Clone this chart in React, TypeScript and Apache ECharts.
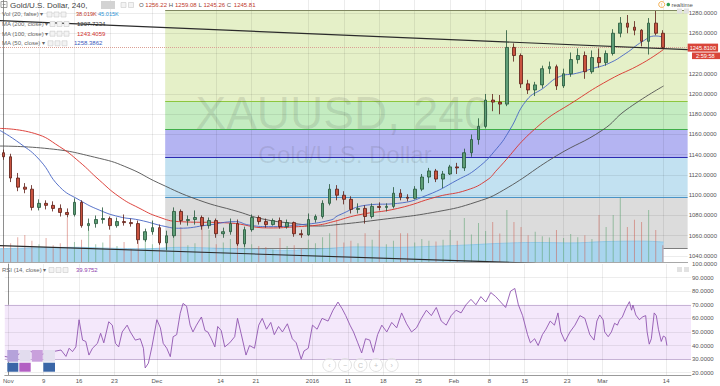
import React, { useEffect, useRef } from "react";
import * as echarts from "echarts";

const FONT = "'Liberation Sans', Arial, sans-serif";

// trading days shown (Nov 2015 - Mar 2016)
const DATES = [
  "11-02","11-03","11-04","11-05","11-06","11-09","11-10","11-11","11-12","11-13","11-16","11-17","11-18","11-19","11-20","11-23","11-24","11-25","11-26","11-27","11-30",
  "12-01","12-02","12-03","12-04","12-07","12-08","12-09","12-10","12-11","12-14","12-15","12-16","12-17","12-18","12-21","12-22","12-23","12-24","12-28","12-29","12-30","12-31",
  "01-04","01-05","01-06","01-07","01-08","01-11","01-12","01-13","01-14","01-15","01-18","01-19","01-20","01-21","01-22","01-25","01-26","01-27","01-28","01-29",
  "02-01","02-02","02-03","02-04","02-05","02-08","02-09","02-10","02-11","02-12","02-15","02-16","02-17","02-18","02-19","02-22","02-23","02-24","02-25","02-26","02-29",
  "03-01","03-02","03-03","03-04","03-07","03-08","03-09","03-10","03-11","03-14",
];
const RIGHT_PAD = ["+1", "+2", "+3"];

const TICK_DATES = ["11-02","11-09","11-16","11-23","12-01","12-14","12-21","01-04","01-11","01-18","01-25","02-01","02-08","02-15","02-23","03-01","03-14"];
const TICK_LABELS = ["Nov","9","16","23","Dec","14","21","2016","11","18","25","Feb","8","15","23","Mar","14"];

const OPEN = [1142,1138,1117,1108,1106,1088,1092,1090,1087,1083,1081,1093,1070,1072,1076,1077,1070,1074,1073,1072,1056,1064,1068,1053,1060,1084,1075,1076,1078,1070,1075,1062,1064,1072,1052,1066,1078,1074,1071,1075,1069,1073,1062,1061,1076,1079,1092,1106,1100,1096,1086,1087,1079,1089,1088,1089,1102,1098,1097,1106,1118,1124,1116,1121,1128,1127,1142,1155,1168,1194,1192,1190,1246,1238,1210,1204,1209,1225,1227,1208,1220,1234,1238,1222,1236,1231,1240,1260,1270,1266,1263,1252,1270,1260];
const HIGH = [1145,1141,1122,1112,1110,1096,1095,1094,1091,1087,1097,1095,1077,1080,1088,1079,1078,1081,1077,1075,1067,1075,1071,1065,1088,1086,1080,1085,1080,1078,1077,1068,1077,1076,1069,1081,1080,1077,1077,1078,1076,1074,1066,1082,1081,1095,1111,1110,1104,1099,1092,1090,1092,1093,1092,1108,1106,1101,1109,1121,1127,1126,1124,1130,1132,1146,1160,1176,1200,1200,1199,1263,1250,1240,1214,1212,1228,1232,1229,1225,1241,1245,1242,1243,1245,1243,1264,1276,1278,1272,1264,1275,1282,1263];
const LOW = [1135,1113,1104,1102,1085,1085,1086,1084,1079,1078,1079,1068,1065,1068,1072,1066,1068,1070,1069,1052,1054,1061,1051,1046,1058,1071,1070,1071,1066,1067,1058,1058,1061,1050,1049,1064,1071,1068,1070,1067,1067,1059,1058,1060,1073,1077,1090,1095,1091,1082,1082,1072,1077,1085,1084,1087,1095,1094,1096,1104,1112,1113,1107,1120,1121,1124,1138,1150,1166,1183,1180,1188,1232,1206,1200,1198,1206,1220,1204,1206,1217,1230,1215,1220,1226,1228,1238,1256,1260,1258,1247,1239,1258,1245];
const CLOSE = [1138,1117,1108,1106,1088,1092,1090,1087,1083,1081,1093,1070,1072,1076,1077,1070,1074,1073,1072,1056,1064,1068,1053,1060,1084,1075,1076,1078,1070,1075,1062,1064,1072,1052,1066,1078,1074,1071,1075,1069,1073,1062,1061,1076,1079,1092,1106,1100,1096,1086,1087,1079,1089,1088,1089,1102,1098,1097,1106,1118,1124,1116,1121,1128,1127,1142,1155,1168,1194,1192,1190,1246,1238,1210,1204,1209,1225,1227,1208,1220,1234,1238,1222,1236,1231,1240,1260,1270,1266,1263,1252,1270,1260,1246];

// volume (K) per bar and its 20-period average
const VOLUME = [38,42,56,61,48,40,54,38,42,99,45,50,72,40,44,61,36,45,30,48,61,40,44,50,58,79,38,42,101,72,40,44,52,68,61,40,36,34,28,54,36,38,30,50,42,56,65,95,44,48,42,65,50,72,40,48,65,65,44,52,48,46,50,72,48,99,62,88,70,90,64,117,90,79,60,68,58,55,72,54,63,56,60,52,106,79,106,146,79,95,90,117,72,38];
const VOL_MA = [[-0.5,30],[5,32],[10,33],[15,31],[20,30],[25,33],[30,31],[35,29],[40,27],[45,30],[50,34],[55,33],[60,35],[65,38],[70,42],[75,44],[80,43],[85,46],[90,47],[93.1,45]];

// moving averages read at sample positions [bar index, price]
const MA200 = [[-0.5,1148.6],[5.8,1146.4],[13.5,1136.5],[17.7,1126.7],[21.9,1112],[27.5,1095.3],[33.1,1083.8],[36.6,1076.5],[41.6,1071.6],[44.4,1069.6],[46.5,1070.6],[52.8,1075.6],[61.2,1083.8],[66.8,1093.6],[70.5,1105],[78,1139],[84.5,1164.4],[87.8,1184.2],[93.1,1207.9]];
const MA100 = [[-0.5,1166],[4.4,1161],[7.9,1148],[10.7,1133],[13.5,1115],[16.3,1098.6],[19.1,1087.4],[21.9,1078.5],[24.7,1074],[31.8,1072.6],[37.4,1067.7],[41.6,1069],[44.4,1070.6],[46.5,1073.9],[50,1080.5],[55.6,1087],[61.2,1098.6],[65.4,1105.2],[68.2,1115],[69.6,1125],[75.2,1167],[80.8,1194],[85.4,1213.8],[90.1,1230.3],[93.1,1244]];
const MA50 = [[-0.5,1164],[2.3,1151.3],[5.1,1134.8],[7.9,1108.4],[10.7,1095.3],[13.5,1085.4],[16.3,1078.8],[19.1,1075.6],[22.9,1069],[24.7,1067.4],[28.9,1070.6],[32.7,1073.9],[34.6,1070.6],[37.4,1069],[41.6,1070.6],[46.2,1075.6],[47.2,1080],[51.4,1090.4],[55.6,1092],[59.8,1100.2],[64,1115],[66.8,1126.6],[69.6,1146.4],[71.4,1164.4],[73.8,1194],[76.1,1205.6],[78.4,1217.1],[80.8,1220.4],[83.2,1225.4],[85.4,1230.3],[87.8,1240.2],[90.1,1251.7],[92,1257.3],[93.1,1256]];

const RSI = [[-0.5,32],[0.44,31],[1.6,34],[3,36],[4.4,33],[5.8,35],[7.45,36.7],[8.15,32],[8.6,38],[9.07,35.5],[9.55,39],[10,59],[10.5,44],[10.95,43],[11.4,33],[11.9,38],[12.6,41.6],[13.05,49],[13.5,42],[14.2,57.5],[14.7,55],[15.15,41.6],[15.6,39],[16.1,50],[16.8,55],[17.25,50],[17.95,44],[18.65,45],[19.1,38],[19.35,23.5],[19.8,27],[20.3,39],[21,59],[21.5,53],[21.9,41.6],[22.4,38],[22.9,31.8],[23.3,46.5],[23.8,48],[24.3,63.7],[24.7,71],[25.2,69],[25.7,55],[26.1,50],[26.6,55],[27.3,61],[27.8,51],[28.2,50],[28.7,45],[29.2,39],[29.6,54],[30.1,51],[30.6,39],[31.3,42],[32,46.5],[32.4,60],[32.9,49],[33.6,33],[34.1,40],[34.8,38],[35.4,55],[35.9,60],[36.5,52],[37.1,57],[37.6,48],[38.2,54],[38.75,50],[39.45,56],[40.15,45],[40.7,42],[41.4,30],[41.8,36],[42.4,38],[43,55],[43.65,52],[44.35,60],[45.2,58],[45.9,66],[46.6,72],[47.2,67],[47.7,62],[48.3,55],[48.8,50],[49.4,42],[49.95,34.5],[50.5,45],[51.1,44],[51.6,35],[52.2,48],[52.8,55],[53.5,50],[54.2,57],[54.9,53],[55.6,64],[56.3,56],[57,50],[57.7,53],[58.4,60],[59.1,66],[59.8,62],[60.5,68],[61.2,58],[61.9,55],[62.6,62],[63.3,66],[64,64],[64.7,70],[65.4,74],[66.1,70],[66.8,76],[67.5,72],[68.2,79],[68.9,76],[69.6,72],[70.3,68],[71,80],[71.6,82],[72.1,70],[72.7,62],[73.4,48],[73.8,42],[74.4,45],[74.9,40],[75.5,48],[76,52],[76.6,58],[77.2,55],[77.7,64],[78.1,50],[78.7,43],[79.4,50],[80.1,55],[80.8,62],[81.5,60],[82.2,48],[82.8,44],[83.2,58],[83.6,62.5],[84.1,58.8],[84.3,50],[84.8,46.5],[85.25,50],[85.7,56.4],[86.1,55],[86.4,58.8],[86.8,61],[87.3,67.4],[87.8,72.3],[88.1,66],[88.3,69.8],[88.7,62.5],[89.2,59],[89.7,61.2],[90.1,62],[90.3,50],[90.6,41],[90.9,45],[91.3,64],[91.6,62],[91.9,52],[92.3,43],[92.6,47],[92.9,46],[93.1,40]];

const UPPER_TREND = [[-0.5,1272.5],[96.5,1243.8]];
const LOWER_TREND = [[-0.5,1050.2],[75,1032.9]];
const FIB_LEVELS = [1047.6,1098,1137.5,1165,1193,1282.3];
const FIB_START = 22.8;
const LAST_PRICE = 1245.81;
const PRICE_TICKS = [1040,1060,1080,1100,1120,1140,1160,1180,1200,1220,1240,1260,1280];
const RSI_TICKS = [20,30,40,50,60,70,80,90,100];
const RSI_BAND = [30,70];

const FIB_FILL = ["#dcdcdc","#c2e1f1","#b4b4f2","#c4ecc1","#e5f0c8"];
const FIB_LINE = ["#7d7d7d","#4a93c6","#2b2bb0","#3fae49","#8dc63f","#7f8760"];

const CATS = [...DATES, ...RIGHT_PAD];
const XMIN = -0.5;
const XMAX = CATS.length - 0.5;
const tickIdx = TICK_DATES.map((d) => DATES.indexOf(d));
// axis labels hidden behind the last-price / countdown boxes
const PRICE_LABELS = PRICE_TICKS.filter((v) => Math.abs(v - LAST_PRICE) > 10);

function txt(x: number, y: number, text: string, fill: string, size = 6, extra: any = {}) {
  return { type: "text", x, y, z: 30, silent: true, style: { text, fill, font: `${size}px ${FONT}`, verticalAlign: "middle", ...extra } };
}
function box(x: number, y: number) {
  return { type: "rect", z: 30, silent: true, shape: { x, y, width: 5, height: 5 }, style: { fill: "#f3f3f3", stroke: "#c9c9c9", lineWidth: 0.6 } };
}

function buildOption(): any {
  const candles = DATES.map((_, i) => [OPEN[i], CLOSE[i], LOW[i], HIGH[i]]);
  const vol = VOLUME.map((v, i) => ({
    value: v,
    itemStyle: { color: CLOSE[i] >= OPEN[i] ? "rgba(90,160,110,0.55)" : "rgba(205,90,75,0.5)" },
  }));

  const fibAreas = FIB_FILL.map((c, k) => [
    { xAxis: FIB_START, yAxis: FIB_LEVELS[k], itemStyle: { color: c } },
    { xAxis: XMAX, yAxis: FIB_LEVELS[k + 1] },
  ]);
  const fibLines = FIB_LEVELS.map((v, k) => [
    { coord: [FIB_START, v], lineStyle: { color: FIB_LINE[k], width: 1, type: "solid" } },
    { coord: [XMAX, v] },
  ]);

  const gridMain = [
    ...PRICE_TICKS.map((v) => ({ yAxis: v })),
    ...tickIdx.map((i) => ({ xAxis: i })),
  ];
  const gridRsi = [
    ...RSI_TICKS.filter((v) => v !== 100).map((v) => ({
      yAxis: v,
      lineStyle: RSI_BAND.includes(v) ? { color: "#c7b3d6", width: 1, type: "solid" } : { color: "rgba(0,0,0,0.07)", width: 1, type: "solid" },
    })),
    ...tickIdx.map((i) => ({ xAxis: i })),
  ];

  const graphic: any[] = [
    // header
    { type: "rect", z: 30, silent: true, shape: { x: 1, y: 1.5, width: 6, height: 6 }, style: { fill: "none", stroke: "#777", lineWidth: 0.7 } },
    { type: "line", z: 30, silent: true, shape: { x1: 2.5, y1: 4.5, x2: 5.5, y2: 4.5 }, style: { stroke: "#777", lineWidth: 0.7 } },
    txt(10, 5, "Gold/U.S. Dollar, 240,", "#444", 8),
    { type: "rect", z: 30, silent: true, shape: { x: 101, y: 1, width: 14, height: 8 }, style: { fill: "#d3d3d3" } },
    box(121, 2.5), box(128.5, 2.5),
    txt(139, 5, "O", "#555"), txt(145.3, 5, "1256.22", "#c0392b"),
    txt(168.7, 5, "H", "#555"), txt(175, 5, "1259.08", "#c0392b"),
    txt(198.4, 5, "L", "#555"), txt(203.4, 5, "1245.26", "#c0392b"),
    txt(226.8, 5, "C", "#555"), txt(233.8, 5, "1245.81", "#c0392b"),
    txt(2, 14.3, "Vol (20, false) \u25BE", "#666"), box(47, 12), box(54, 12), box(61, 12),
    txt(76, 14.3, "38.019K", "#c0392b", 5.6), txt(98, 14.3, "45.015K", "#2d95d6", 5.6),
    txt(2, 24, "MA (200, close) \u25BE", "#666"), box(50, 21.5), box(57, 21.5), box(64, 21.5),
    txt(77, 24, "1207.7234", "#333"),
    txt(2, 33.7, "MA (100, close) \u25BE", "#666"), box(50, 31.2), box(57, 31.2), box(64, 31.2),
    txt(77, 33.7, "1243.4059", "#d0312d"),
    txt(2, 43.3, "MA (50, close) \u25BE", "#666"), box(48, 40.8), box(55, 40.8), box(62, 40.8),
    txt(74, 43.3, "1258.3862", "#3b5bbd"),
    txt(2, 270, "RSI (14, close) \u25BE", "#666"), box(49, 267.5), box(56, 267.5), box(63, 267.5),
    txt(76, 270, "39.9752", "#8e44ad"),
    // watermark
    { type: "text", z: 1.8, silent: true, x: 342.5, y: 113, style: { text: "XAUUSD, 240", fill: "rgba(60,60,60,0.13)", font: `46px ${FONT}`, align: "center", verticalAlign: "middle" } },
    { type: "text", z: 1.8, silent: true, x: 345, y: 154.5, style: { text: "Gold/U.S. Dollar", fill: "rgba(60,60,60,0.12)", font: `24px ${FONT}`, align: "center", verticalAlign: "middle" } },
    // realtime marker
    { type: "circle", z: 30, silent: true, shape: { cx: 661.7, cy: 4.5, r: 3 }, style: { fill: "#fff", stroke: "#f0a030", lineWidth: 0.8 } },
    txt(661.7, 4.7, "!", "#f0a030", 5, { align: "center" }),
    { type: "circle", z: 30, silent: true, shape: { cx: 668.3, cy: 4.5, r: 1.8 }, style: { fill: "#2e9e50" } },
    txt(671.5, 4.7, "realtime", "#555", 6),
    { type: "rect", z: 30, silent: true, shape: { x: 677, y: 8.5, width: 5, height: 5 }, style: { fill: "#e2e2e2" } },
    { type: "rect", z: 30, silent: true, shape: { x: 684, y: 8.5, width: 5, height: 5 }, style: { fill: "#e2e2e2" } },
    { type: "rect", z: 30, silent: true, shape: { x: 677, y: 267, width: 5, height: 5 }, style: { fill: "#e2e2e2" } },
    { type: "rect", z: 30, silent: true, shape: { x: 684, y: 267, width: 5, height: 5 }, style: { fill: "#e2e2e2" } },
    // countdown box
    { type: "rect", z: 30, silent: true, shape: { x: 692, y: 52.5, width: 28, height: 6.6 }, style: { fill: "#d9453a" } },
    txt(696, 55.9, "2:59:58", "#fff", 5.6),
  ];
  // colour squares widget (bottom-left)
  const sqX = [7.3, 19.3, 31.7, 43.3];
  const sqW = [11, 11.4, 11, 11.7];
  const topC = ["#b5a2da", "#e2dcee", "#c9a0dc", "#e4e0ef"];
  const botC = ["#3a66a7", "#b35fc3", "#ffffff", "#3a66a7"];
  sqX.forEach((x, k) => {
    graphic.push({ type: "rect", z: 30, silent: true, shape: { x, y: 350, width: sqW[k], height: 11.7 }, style: { fill: topC[k] } });
    graphic.push({ type: "rect", z: 30, silent: true, shape: { x, y: 362.7, width: sqW[k], height: 9 }, style: { fill: botC[k] } });
  });
  // navigation buttons
  const navX = [329.3, 345, 360.5, 376, 391.7];
  const navS = ["\u2039", "\u2212", "C", "+", "\u203A"];
  navX.forEach((x, k) => {
    graphic.push({ type: "circle", z: 30, silent: true, shape: { cx: x, cy: 365, r: 6.5 }, style: { fill: "rgba(255,255,255,0.5)", stroke: "#dadada", lineWidth: 0.8 } });
    graphic.push(txt(x, 365.3, navS[k], "#c4c4c4", 7, { align: "center" }));
  });

  const lineCommon = { type: "line", symbol: "none", silent: true, animation: false };

  return {
    animation: false,
    backgroundColor: "#ffffff",
    textStyle: { fontFamily: FONT },
    grid: [
      { left: 0, top: 0, width: 692, height: 262 },
      { left: 0, top: 264, width: 692, height: 111 },
    ],
    xAxis: [
      { type: "category", gridIndex: 0, data: CATS, boundaryGap: true, axisLine: { lineStyle: { color: "#a8a8a8" } }, axisTick: { show: false }, axisLabel: { show: false }, splitLine: { show: false } },
      { type: "value", gridIndex: 0, min: XMIN, max: XMAX, show: false },
      {
        type: "category", gridIndex: 1, data: CATS, boundaryGap: true,
        axisLine: { lineStyle: { color: "#9a9a9a" } }, axisTick: { show: false }, splitLine: { show: false },
        axisLabel: {
          interval: (_i: number, v: string) => TICK_DATES.includes(v),
          formatter: (v: string) => { const k = TICK_DATES.indexOf(v); return k >= 0 ? TICK_LABELS[k] : ""; },
          fontSize: 6, color: "#555", margin: 3, fontFamily: FONT,
        },
      },
      { type: "value", gridIndex: 1, min: XMIN, max: XMAX, show: false },
    ],
    yAxis: [
      {
        type: "value", gridIndex: 0, position: "right", min: 1034.07, max: 1292.84,
        axisLine: { show: true, lineStyle: { color: "#9a9a9a" } }, axisTick: { show: false }, splitLine: { show: false },
        axisLabel: { customValues: PRICE_LABELS, formatter: (v: number) => v.toFixed(4), fontSize: 6, color: "#555", margin: 1, fontFamily: FONT },
      },
      { type: "value", gridIndex: 0, min: 0, max: 590, show: false },
      {
        type: "value", gridIndex: 1, position: "right", min: 18.32, max: 100,
        axisLine: { show: true, lineStyle: { color: "#9a9a9a" } }, axisTick: { show: false }, splitLine: { show: false },
        axisLabel: { customValues: RSI_TICKS, formatter: (v: number) => v.toFixed(4), fontSize: 6, color: "#555", margin: 1, fontFamily: FONT },
      },
    ],
    series: [
      // grid lines main pane
      { ...lineCommon, name: "gridMain", xAxisIndex: 1, yAxisIndex: 0, data: [[-100, -100]], z: 1,
        markLine: { silent: true, z: 1.5, symbol: ["none", "none"], label: { show: false }, lineStyle: { color: "rgba(0,0,0,0.075)", width: 1, type: "solid" }, data: gridMain } },
      // fibonacci retracement
      { ...lineCommon, name: "fib", xAxisIndex: 1, yAxisIndex: 0, data: [[-100, -100]], z: 1,
        markArea: { silent: true, z: 1, data: fibAreas },
        markLine: { silent: true, z: 1.6, symbol: ["none", "none"], label: { show: false }, data: fibLines } },
      // volume average area
      { ...lineCommon, name: "volMA", xAxisIndex: 1, yAxisIndex: 1, data: VOL_MA, smooth: 0.4, z: 2.5,
        lineStyle: { color: "#86c3e6", width: 0.8 }, areaStyle: { color: "#a9d5ee", opacity: 1 } },
      // volume bars
      { type: "bar", name: "vol", xAxisIndex: 0, yAxisIndex: 1, data: vol, barWidth: 1, z: 3, silent: true },
      // last price line
      { ...lineCommon, name: "last", xAxisIndex: 1, yAxisIndex: 0, data: [[-100, -100]], z: 4,
        markLine: { silent: true, z: 4, symbol: ["none", "none"],
          lineStyle: { color: "#dba095", width: 1, type: "dotted" },
          label: { show: true, position: "end", distance: 0, formatter: () => LAST_PRICE.toFixed(4), backgroundColor: "#d9453a", color: "#fff", fontSize: 5.6, fontFamily: FONT, padding: [0.5, 2, 0.5, 2], lineHeight: 7 },
          data: [{ yAxis: LAST_PRICE }] } },
      // moving averages
      { ...lineCommon, name: "MA200", xAxisIndex: 1, yAxisIndex: 0, data: MA200, smooth: 0.5, z: 6, lineStyle: { color: "#505050", width: 0.9 } },
      { ...lineCommon, name: "MA100", xAxisIndex: 1, yAxisIndex: 0, data: MA100, smooth: 0.5, z: 6, lineStyle: { color: "#d9312a", width: 0.9 } },
      { ...lineCommon, name: "MA50", xAxisIndex: 1, yAxisIndex: 0, data: MA50, smooth: 0.5, z: 6, lineStyle: { color: "#4664c4", width: 0.9 } },
      // trend lines
      { ...lineCommon, name: "trendUp", xAxisIndex: 1, yAxisIndex: 0, data: UPPER_TREND, z: 6, lineStyle: { color: "#2b2b2b", width: 1.1 } },
      { ...lineCommon, name: "trendLow", xAxisIndex: 1, yAxisIndex: 0, data: LOWER_TREND, z: 6, lineStyle: { color: "#2b2b2b", width: 1.1 } },
      // candles
      { type: "candlestick", name: "XAUUSD", xAxisIndex: 0, yAxisIndex: 0, data: candles, barWidth: 3.2, z: 8, silent: true,
        itemStyle: { color: "#5e9e77", color0: "#c9533f", borderColor: "#225437", borderColor0: "#5b1a13", borderWidth: 0.8 } },
      // RSI
      { ...lineCommon, name: "RSI", xAxisIndex: 3, yAxisIndex: 2, data: RSI, z: 6, lineStyle: { color: "#9055b0", width: 0.9 },
        markArea: { silent: true, z: 1, itemStyle: { color: "#f4e8fb" }, data: [[{ xAxis: XMIN, yAxis: RSI_BAND[0] }, { xAxis: XMAX, yAxis: RSI_BAND[1] }]] },
        markLine: { silent: true, z: 1.5, symbol: ["none", "none"], label: { show: false }, lineStyle: { color: "rgba(0,0,0,0.07)", width: 1, type: "solid" }, data: gridRsi } },
    ],
    graphic,
  };
}

export default function App() {
  const ref = useRef<HTMLDivElement>(null);
  useEffect(() => {
    document.body.style.margin = "0";
    const chart = echarts.init(ref.current!, null, { renderer: "svg" });
    chart.setOption(buildOption());
    return () => chart.dispose();
  }, []);
  return <div ref={ref} style={{ position: "absolute", left: 0, top: 0, width: 720, height: 386, background: "#fff" }} />;
}
